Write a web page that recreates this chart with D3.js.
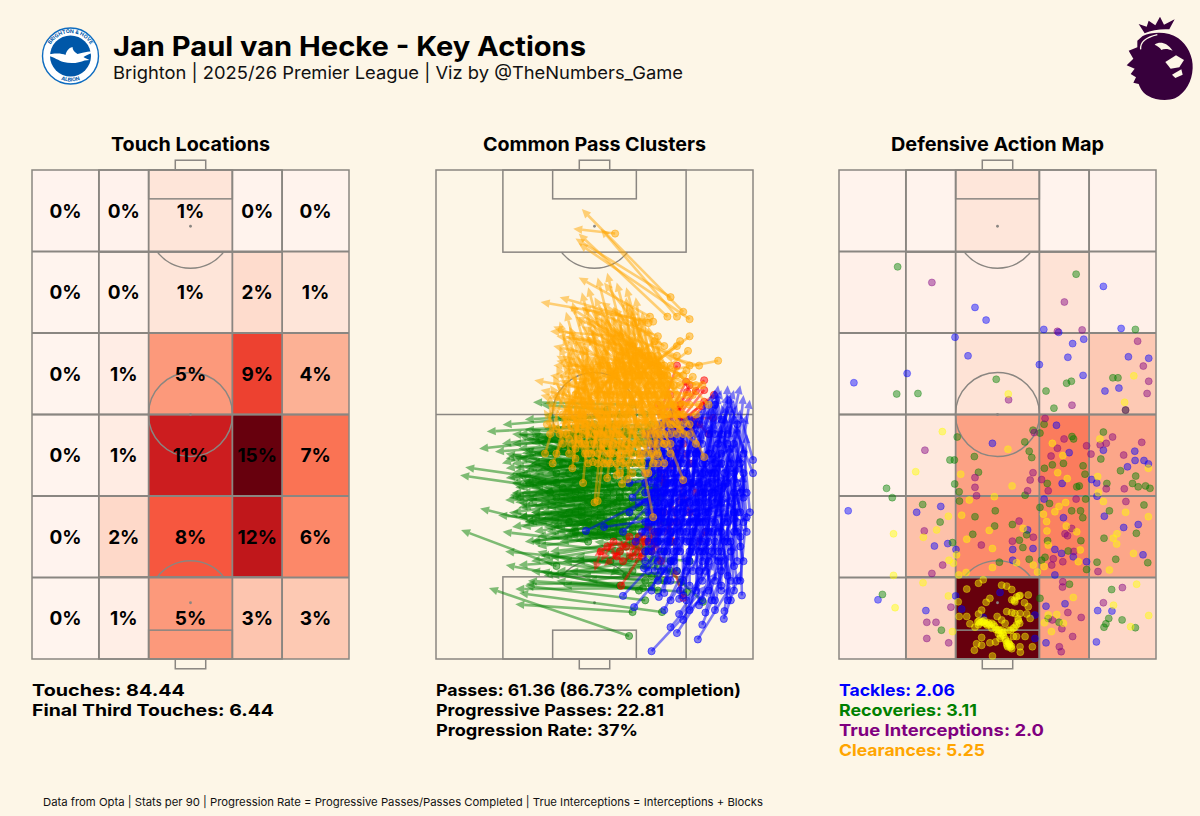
<!DOCTYPE html>
<html>
<head>
<meta charset="utf-8">
<script src="https://cdn.jsdelivr.net/npm/d3@7"></script>
<style>
  html, body { margin: 0; padding: 0; background: #fdf6e7; }
  svg { display: block; }
  text { font-family: Inter, "Open Sans", sans-serif; fill: #000; }
</style>
</head>
<body>
<div id="chart"></div>
<script>
// touch share per zone, top row first (percent)
const touchShare = [
  [0.15, 0.25, 1.4, 0.2, 0.2],
  [0.1, 0.3, 1.4, 2.0, 1.4],
  [0.1, 0.7, 5.4, 9.4, 4.3],
  [0.1, 0.8, 11.4, 15.3, 7.2],
  [0.15, 2.2, 8.4, 12.0, 6.2],
  [0.1, 0.6, 5.4, 3.3, 3.1]
];
// defensive actions per zone, top row first
const defensiveCounts = [
  [1, 1, 6, 1, 1],
  [2, 2, 3, 7, 2],
  [1, 1, 7, 9, 14],
  [1, 5, 23, 31, 22],
  [2, 16, 28, 30, 22],
  [2, 12, 70, 23, 10]
];
// zone edges in pitch percent
const zoneX = [0, 21.1, 36.8, 63.2, 78.9, 100];
const zoneY = [100, 83.33, 66.67, 50, 33.33, 16.67, 0];

// passes as [startX, startY, endX, endY] in pitch percent, y = 0 at own goal
const greenPasses = [
  [60.9,4.7,16.7,14.5],[62,9.6,25,11.2],[71.3,9.6,26.2,13.5],[77.3,15.7,28.3,15.3],[65.3,14.5,25,14.3],[61,20.6,26,19.2],[79.2,13.7,29,16],[84.2,11.7,62,25],
  [60,50,21,47.9],[58,48,16,46.5],[56,46,13.6,43],[52,47,20.8,44],[54,44,18.6,42.4],[50,45,20.8,40],[44,36,9.2,39.2],[46,34,7.6,37.6],[50,36,23.3,33.5],[52,33,21.8,32.5],[44,26,13.9,30.8],[48,28,19.6,29.4],[38,19,7.9,26.4],[48,24,21,26],[55,20,21.8,22],[58,15,22,19.2],
  [62,52,30.6,52.5],[58,50,28,49],[54,51,33,52],[66,50,38,49],[68,48,36,47],[70,46,34,45],[64,47,30,45],[60,46,26,46],[56,45,24,44],[52,44,28,42],[48,43,22,41],[50,42,30,40],
  [66,44,32,42],[68,42,30,40],[70,41,34,39],[64,42,28,39],[62,40,26,41],[60,41,24,38],[58,40,22,37],[56,39,28,36],[54,38,25,35],[52,39,30,37],[48,37,27,36],[46,38,32,40],
  [70,38,36,37],[68,37,34,35],[66,36,31,34],[64,38,29,36],[62,36,25,33],[60,35,27,34],[58,36,23,33],[56,34,29,32],[54,33,26,31],[52,35,31,36],[48,32,24,30],[46,31,28,33],
  [70,34,38,33],[68,33,35,31],[66,32,33,30],[64,33,30,29],[62,31,28,28],[60,32,26,29],[58,30,24,27],[56,30,30,30],[54,29,27,27],[52,30,33,32],[50,29,29,28],[48,28,31,26],
  [70,30,40,29],[68,29,37,27],[66,28,35,26],[64,29,32,25],[62,27,30,24],[60,28,34,27],[58,26,28,24],[56,27,36,28],[54,25,32,23],[52,26,38,30],[72,28,42,25],[70,26,39,24],
  [68,25,44,28],[66,24,36,22],[64,25,41,26],[62,24,33,21],[60,23,30,20],[72,36,44,35],[71,33,46,32],[72,42,42,43],[71,45,40,46],[69,44,44,44],[67,40,42,38],[65,35,40,34],
  [63,34,38,32],[61,30,36,29],[59,28,42,30],[57,32,40,35],[55,35,38,38],[53,37,36,42],[51,40,34,43],[49,40,32,45],[47,41,30,47],[45,42,34,46],[43,40,28,43],[44,33,24,36],
  [46,30,26,32],[42,28,23,30],[40,35,25,38],[38,33,27,37],[64,20,34,17],[66,19,36,21],[62,18,38,18],[68,20,40,20],[70,17,42,18],[60,17,32,22],[58,22,30,24],[74,20,44,21],
  [76,18,48,20],[72,16,46,17],[68,15,40,15],[64,14,33,18],[70,14,38,16],[66,12,28,15],[80,20,52,22],[74,24,46,25],[50,48,34,50],[48,46,28,47],[46,45,24,46],[67,47,42,47],
  [69,35,52,27],[67,27,50,25],[63,22,55,17],[60,38,56,24],[64,31,48,42],[61,44,44,38],[58,33,42,26],[55,42,38,33],
  [50,46,32,44],[52,46,34,45],[54,47,36,46],[56,48,38,45],[58,46,40,44],[60,47,42,45],[62,46,44,46],[64,45,46,44],[66,46,48,45],[68,45,50,43],
  [46,44,26,43],[48,44,27,42],[50,44,29,41],[52,42,31,42],[54,43,33,41],[56,42,35,42],[58,44,37,43],[60,43,39,42],[62,43,41,43],[64,44,43,42],[66,42,45,41],[68,40,47,42],[70,43,49,41],
  [44,41,24,40],[46,41,25,39],[48,40,27,38],[50,40,29,39],[52,41,31,38],[54,40,33,39],[56,41,35,38],[58,38,37,40],[60,39,39,38],[62,38,41,40],[64,40,43,38],[66,40,45,39],[68,39,47,38],[70,37,49,39],
  [42,38,23,37],[44,38,24,36],[46,37,26,35],[48,36,28,36],[50,38,30,35],[52,37,32,36],[54,36,34,34],[56,37,36,36],[58,34,38,35],[60,37,40,36],[62,35,42,34],[64,36,44,35],[66,34,46,36],[68,35,48,34],[70,35,50,36],
  [42,34,24,33],[44,34,25,32],[46,33,27,31],[48,34,29,33],[50,33,31,31],[52,32,33,33],[54,34,35,32],[56,32,37,31],[58,33,39,33],[60,33,41,32],[62,32,43,31],[64,31,45,33],[66,30,47,32],[68,31,49,31],[70,32,51,30],
  [42,30,26,29],[44,30,28,28],[46,29,30,30],[48,30,32,28],[50,31,34,29],[52,29,36,27],[54,31,38,29],[56,28,40,28],[58,29,42,27],[60,30,44,29],[62,29,46,27],[64,27,48,28],[66,27,50,29],[68,27,52,27],
  [40,40,22,42],[38,38,24,42],[42,42,26,46],[44,44,28,45],[46,46,30,44],[40,44,30,46],[48,48,34,47],[36,40,22,39],[38,36,26,38],[36,34,24,34],
  [50,26,36,25],[52,27,38,26],[54,27,40,25],[56,25,42,26],[58,27,44,24],[60,25,46,26],[62,26,48,25],[64,23,50,24],[66,22,52,26],[68,23,54,22],[70,24,56,25],
  [72,22,44,20],[70,19,36,17],[74,18,48,16],[68,17,34,20],[66,16,30,18]
];
const bluePasses = [
  [68,1.6,86.5,14.5],[82.6,4,93,15],[76,5.3,89,18],[74,6.5,85,15],[90.8,8.2,96,18],[76.7,9.2,88,20],[62.5,10.6,76,21],[59,12.9,72,22],[70.3,12.7,76,22],[72,13.5,74,25],[76.7,12.3,79,22],
  [83,11,82,24],[85,9.5,90,22],[91,9.8,94,24],[96.5,13,96,28],[96,16,98,30],[95,20,94,34],[96,23,97,38],[98,29,96,42],[99,30,97,44],[97,33,98,46],[100,38,94,48],[100,40.7,96,50],
  [65.6,18.6,78,28],[47.3,26.2,68,33],[53,27,74,29],[59,26,71,34],[61,30,76,37],[62,33,74,42],[61,36,80,38],
  [66,20,68,34],[68,22,70,36],[70,20,72,38],[72,18,74,34],[74,20,73,40],[76,18,76,36],[78,16,77,42],[80,15,80,38],[82,14,83,32],[84,16,82,44],[86,14,85,36],[88,16,88,40],[90,15,90,36],[92,17,92,42],[94,19,94,44],
  [66,26,69,44],[68,28,72,46],[70,26,70,42],[72,28,74,48],[74,26,76,46],[76,28,75,49],[78,26,80,48],[80,24,82,49],[82,26,81,44],[84,24,86,48],[86,26,87,52],[88,24,90,50],[90,26,89,46],[92,28,93,52],[94,26,95,48],
  [66,34,67,47],[68,36,71,48],[70,32,73,49],[72,34,72,46],[74,32,78,49],[76,34,74,44],[78,32,81,49],[80,34,79,48],[82,32,84,50],[84,34,83,46],[86,32,89,54],[88,34,87,48],[90,32,92,56],[92,36,91,50],[94,34,97,54],
  [70,40,66,47],[72,42,70,48],[74,38,74.4,52],[76,42,74,49],[78,40,77,49],[80,42,84,50],[82,38,80,49],[84,40,88,53],[86,42,89,56],[88,40,92,52],[90,42,94,53],[92,44,96,56],[96,40,99,53],[94,38,98,50],[85,30,82,41],
  [69,18,71,30],[73,16,78,32],[77,14,82,28],[81,18,86,30],[85,18,87,34],[89,20,91,34],[93,22,97,36],[95,28,92,40],[71,24,73,36],[75,22,79,38],[79,20,84,36],[83,22,85,40],[87,22,92,38],[91,24,88,42],[67,30,70,40],
  [65,26,76,34],[63,24,72,30],[66,38,78,44],[64,32,80,36],[67,22,84,30],[69,28,87,36],[71,30,90,40],[73,36,89,44],[75,30,93,36],[77,36,95,44],[79,28,96,34],[81,26,97,40],[83,36,88,50],[87,38,90,48],[89,30,94,42],
  [72,10,84,26],[78,8,88,24],[84,7,93,22],[88,12,84,22],[70,16,80,26],[74,12,90,28],[68,14,76,28],[79,12,95,30],[86,20,92,30],[96,25,90,32],[95,30,86,36],[93,12,90,26],[90,20,76,25],[86,38,78,48],[94,44,90,52],
  [88,52,84,46],[90,49,88,55],[95,48,92,54],
  [67,40,69,47],[69,42,71,49],[68,44,73,50],[70,36,74,47],[72,38,76,49],[71,34,75,45],[73,40,77,50],[75,38,79,48],[74,36,78,46],[76,40,80,50],[78,38,82,49],[77,44,81,50],[79,42,83,50],[81,40,85,52],[80,36,84,47],[82,42,86,51],[84,38,88,49],[83,42,87,54],[85,40,89,51],[87,42,91,50],[86,36,90,47],[88,38,92,48],[90,40,94,50],[89,44,93,54],[91,38,95,47],[93,40,96,51],[92,46,95,52],
  [67,24,70,33],[69,26,73,37],[68,32,71,41],[70,28,75,41],[72,26,77,40],[71,22,76,37],[73,28,78,42],[75,26,80,41],[74,24,79,35],[76,24,81,37],[78,28,83,43],[77,22,82,34],[79,24,84,39],[81,28,86,43],[80,22,85,35],[82,28,87,42],[84,22,89,36],[83,24,88,38],[85,28,90,41],[87,26,92,40],[86,24,91,37],[88,28,93,44],[90,22,95,34],[89,22,94,38],[91,28,96,42],[93,24,97,38],[92,24,95,40],
  [66,36,72,40],[66,32,73,34],[66,28,72,32],[65,42,73,44],[66,22,74,28],[66,46,72,49],[68,46,74,49],[67,34,75,36],[68,30,76,32],[69,34,78,38],[70,30,79,34],[71,38,80,42],[72,30,82,33],[73,34,84,37],[74,28,86,32],[75,34,88,37],[76,30,90,34],[77,32,92,36],[78,34,94,38],[79,30,96,32],[80,28,95,30],
  [95,36,90,46],[96,34,92,44],[97,38,93,48],[97,28,94,36],[96,30,93,40],[95,26,91,35],[94,30,90,38],[98,34,95,42],[97,42,94,50],[98,26,96,36],[97,20,94,30],[95,16,92,27],[93,16,89,28],[90,14,87,27],[87,12,85,24],
  [70,44,74,49],[72,44,76,49],[74,42,78,49],[76,46,80,50],[78,46,82,50],[80,46,84,51],[82,46,86,53],[84,44,88,55],[86,46,90,55],[88,46,92,54],[90,46,94,55],[75,20,78,30],[85,22,86,28],[81,22,83,31],[71,18,73,26],[67,18,70,26],[73,22,74,30],[79,18,81,27],[83,18,85,26],
  [70,30,72,38],[72,32,74,42],[74,34,76,43],[76,36,78,44],[78,30,80,39],[80,32,82,41],[82,30,84,39],[84,28,86,37],[86,30,88,39],[88,32,90,41],[71,42,73,48],[73,44,75,49],[75,40,77,47],[77,40,79,46],[79,38,81,45],[81,36,83,44],[83,32,85,40],[85,34,87,42],[87,34,89,43],[89,36,91,45],
  [69,24,71,30],[71,26,73,33],[73,24,75,31],[75,28,77,35],[77,26,79,33],[79,26,81,32],[81,24,83,30],[83,28,85,34],[85,26,87,32],[87,28,89,34],[89,26,91,31],[72,22,75,27],[76,22,78,26],[80,20,82,26],[84,20,86,25],[68,38,70,43],[68,34,71,38],[69,30,72,34],[70,24,72,28],[67,28,70,32],
  [80,10,84,20],[84,12,88,22],[88,10,90,20],[92,12,91,22],[78,13,81,23],[74,16,77,24],[94,14,93,24],[90,18,92,26]
];
const orangePasses = [
  [56.5,87,43.3,88],[74,74,44,86],[78,71,46,92],[80,69.5,45,85],[76,70,52,88],[73,70,45,87],[67.5,70,45,78],[68.5,69,33,73],[67,68.7,39,74],[63,68.7,53,77],
  [70,66,46,72],[72,64,52,73],[76,62,48,69],[89,61,71,58.7],[80,66,68,60],[79.5,63,66,56],[77,65,62,57],[76,64,58,55],[69,65,55,58],[79,59,66,54],[81,57.7,70,53],
  [60,62,37,68],[64,60,37,64],[58,58,38,61],[62,56,36,58],[58,54,31,57],[56,52,33,55],[55,50,33,54],[58,66,36,67],[62,64,38,66],[66,62,41,66],
  [66,58,46,72],[64,57,50,74],[68,60,53,72],[62,59,47,66],[70,56,50,70],[72,58,56,72],[70,52,54,67],[73,54,60,73],[66,52,49,67],[60,48,42,64],[58,46,40,60],[56,44,38,56],[54,42,40,52],
  [34.4,42,42,58],[36.8,40,46,54],[43,39,47,60],[46.4,36,50,62],[50,32,54,56],[51,32.3,56,60],[58.7,35.8,60,58],[60.5,36.8,62,60],[54,37,58,56],[57,37.6,60,60],[64.4,41,56,62],[68.5,29,58,64],
  [78,36.6,64,60],[84.6,41.3,70,62],[68.5,40,62,62],[69.7,41.7,64,64],[72,44,60,66],[49.5,40.3,52,62],[48,42,46,64],[44,43,44,60],[42,45,42,63],[46,44,48,66],[52,43,50,68],[55,42,54,70],[58,41,56,72],[61,43,58,71],[63,44,60,74],[66,44,62,70],[68,46,58,68],[70,46,62,72],[74,48,64,70],[76,50,66,68],[78,52,68,66],[75,52,60,64],[72,50,56,68],[69,48,52,70],[65,46,48,68],[62,46,45,70],[60,44,44,66],[57,46,42,68],[54,46,40,66],[51,46,39,64],[48,46,38,60],[45,47,37,58],[43,49,36,56],[47,50,39,69],[50,50,41,71],[53,50,43,73],[56,50,46,75],[59,50,48,76],[62,50,51,78],[65,50,54,79],[68,50,57,77],[71,50,60,76],[74,46,66,64],[77,47,68,63],[72,46,70,66],
  [73,58,49,71],[70,60,46,68],[67,62,42,72],[64,63,44,70],[61,64,50,72],[58,62,47,70],[55,60,44,65],[52,56,41,62],[50,54,39,57],[48,52,36,54],[46,50,35,52],[45,44,40,50],[47,42,43,52],[49,44,45,55],[51,42,47,58],[53,44,49,60],[55,46,51,62],[57,48,53,64],[59,52,55,66],[61,54,57,68],[63,52,59,70],[65,54,61,72],[67,56,63,74],[69,54,65,71],[71,56,67,68],[73,50,63,62],[75,48,69,60],[77,50,70,58],[74,56,66,62],[76,54,68,62],
  [60,56,46,60],[64,54,48,62],[68,52,52,60],[72,52,58,60],[70,48,54,58],[66,48,50,56],[62,44,47,52],[58,44,44,50],[54,44,41,48],[50,48,38,50],[47,46,44,54],[44,47,48,58],[52,50,58,62],[56,54,62,66],[60,58,66,70],[64,58,60,68],[68,56,56,62],[71,60,62,68],[63,62,55,70],[59,60,52,68],
  [72,44,52,62],[74,44,58,60],[76,46,60,58],[78,48,62,56],[80,48,66,58],[82,44,68,52],[70,42,56,56],[68,42,54,52],[66,42,50,50],[64,42,46,48],[62,42,44,54],[60,42,42,50],[58,42,48,58],[56,42,46,56],
  [50,44,55,60],[52,46,57,62],[54,48,59,64],[56,48,61,60],[58,48,63,66],[60,50,65,64],[62,52,67,62],[64,52,69,60],[66,54,71,58],[68,54,73,56],[70,54,60,52],[72,54,62,50],[74,52,64,48],[76,52,58,50],[78,50,56,48],
  [45,50,54,64],[47,52,56,66],[49,52,58,60],[51,54,60,62],[53,54,44,62],[55,54,46,64],[57,56,48,66],[59,56,50,64],[61,58,52,66],[63,58,54,60],[65,58,56,66],[67,58,58,64],[69,58,60,66],[71,58,62,64],[73,56,64,62],[75,56,66,60],[77,56,68,60],
  [40,50,50,60],[42,52,52,58],[44,54,48,62],[46,56,42,66],[48,58,40,60],[50,58,38,62],[52,60,37,60],[54,60,39,58],[56,58,41,56],[58,60,43,54],[60,60,45,52],[62,60,47,50],[64,62,49,54],[66,60,51,56],[68,62,53,54],[70,62,55,52],[72,60,57,50],[74,60,59,48],[76,58,61,46],
  [44,48,40,56],[46,48,42,54],[48,48,44,52],[50,46,46,50],[52,48,48,54],[54,50,50,52],[56,46,52,50],[58,52,54,48],[60,54,56,46],[62,54,58,44],[64,48,60,52],[66,46,62,50],[68,44,64,54],[70,44,66,56],[72,48,68,58],[74,50,70,60],[76,48,72,58],[78,46,74,52],[80,46,70,50],[80,52,72,54],[82,50,74,50],
  [39,46,43,52],[41,48,45,56],[43,44,47,52],[45,45,49,54],[47,44,51,52],[49,42,53,50],[51,40,55,50],[53,40,57,48],[55,40,59,50],[57,40,61,48],[59,40,63,50],[61,40,65,52],[63,40,67,50],[65,40,69,52],[67,38,71,48],
  [84,56,70,58],[86,52,74,60],[82,56,66,62],[80,60,68,64],[83,60,72,62],[78,58,62,62],[81,54,70,55],[79,54,67,50],[83,52,72,52],[38,42,42,52],[40,44,37,52],[36,46,36,54],[42,42,40,50],[38,47,34,51],[44,41,42,48],[41,46,35,48],[35,48,39,55],[72,40,66,50],[74,42,68,48],[70,40,62,46],[66,38,58,44],[62,38,54,44],[58,38,50,46],[54,40,46,44],[48,40,44,46]
];
const redPasses = [
  [76,60,70,49],[78.9,56.7,72,48],[84.6,57,74,49],[79.2,54.6,71,47],[82,54.8,72,45],[84.6,55,75,47],[87.7,54,76,48],[84.6,52.6,74,46],[84,51.7,77,45],[87.4,49.3,72,49],[80.5,47.9,72,44],[74,48,66,46],[70,46,68,42],
  [70,52,73,47],[74,54,72,50],[72,48,78,52],[77,52,75,46],[80,56,76,50],[83,48,78,46],[86,46,80,50],[76,50,82,46],
  [58.4,15,65.3,21.9],[78,12.5,74.8,18.8],[52,22,50,18],[56,24,52,20],[58,22,53,19],[60,23,56,24],[63,24,60,20],[66,24,64,21],[68,22,70,25],[65,21,62,23],[69,26,66,23],[71,20,69,24],[75,24,73,28],[72,30,70,26],[78,36,76,31],[80,30,78,34],[85,26,82,23],[76,43,74,38],
  [54,23,50,21],[57,21,54,24],[61,25,58,22],[64,25,61,22],[67,24,64,26],[59,20,55,22],[62,21,66,25],[70,26,68,22],[74,28,72,25],[67,27,69,23],
  [74,40,71,36],[78,44,75,41],[82,34,80,37],[76,28,74,32],[72,36,70,40],[80,40,78,43]
];

// defensive actions as [x, y] in pitch percent
const tackles = [
  [83.4,76.2],[42.9,71.9],[46.4,69.3],[64.6,67.4],[89,67.6],[69.3,66.8],[36.6,65.8],[73.7,64.5],[77.2,65.4],[91.3,61.8],[97.7,61.5],[72.2,61.7],[40.7,62],[63.2,60.2],[77,58],[21.5,58.4],[4.7,56.5],[88.3,55.4],[83.9,54.8],[68.6,47.8],[48.4,44.1],[83.4,42.7],[93.3,42.5],[72.6,42.2],
  [91,39.3],[93.4,40.6],[96.2,40.6],[97.6,39.9],[70.4,35.9],[81.3,36],[79.7,36.7],[81.4,33.3],
  [2.9,30.3],[24.5,30],[32.1,31.2],[30.1,23.1],[34.3,23.6],[36.9,22.4],[64.7,32.7],[70.8,28.9],[59.5,26.4],[54.8,22.4],[61.2,22.6],[54.8,20.2],[68.1,22.4],[70.2,21.6],[73.9,20.9],[78.1,19.9],[68.1,17.2],[83.7,29.2],[89.8,26.9],[94.4,27.5],[95.9,21.3],
  [12.3,12.1],[27.4,9.9],[36.8,12.9],[65.3,10.8],[71.3,11.3],[81.6,9.9],[86.1,9.8],[81.2,3.5],[65.3,3.3],[38.7,10.2],[61.8,9],[61.8,4.2],[50.8,13.6],[45.5,8.5]
];
const recoveries = [
  [18.5,80.2],[74.8,78.7],[93.5,67.4],[86.4,57.5],[88,57.5],[71.8,56.4],[73.3,56.8],[65.3,54.8],[67.8,51.3],[49.6,57.2],[18.2,54.2],[24.9,54.3],[64.7,48],[61.2,46.8],[63.4,46.2],[37.3,45.4],[58.6,44.4],[60,42.5],[83.4,46.4],[73.5,45.5],[74,45],[42.7,41.4],[35,40.7],[36.4,40.7],[90.4,50.9],
  [15,34.9],[16.8,33],[36.5,35.8],[44,38.2],[37.9,34.2],[60.8,41.2],[64.8,39],[67.3,39.7],[70.8,40],[77,39.5],[77.6,37.8],[65.7,35.9],[75,35.2],[75.8,35.4],[82.6,40.9],[88.8,38.5],[93.6,37.4],[92.6,35.9],[94.4,35.2],[96.7,35.4],[98.1,34.9],[84.5,35.9],[58.7,33.5],
  [26.4,31.6],[31.9,28],[35.8,23.8],[38,32.3],[49.3,30.3],[42.9,29.1],[49.1,27.2],[42.2,25.5],[54.7,27.5],[56.9,24.3],[59.2,25.4],[58,22.8],[50.6,19.8],[60,20.4],[65,20.8],[63.4,31],[66.4,31.8],[73.4,30.3],[76.2,30.3],[76.9,28.9],[77.8,32.7],[76.3,24.2],[65.8,24.2],[72.3,22.1],[63.9,20.2],[78.1,18.3],[81.4,19.8],[85.3,30.3],[83.6,24.7],[93.8,25.7],[96.2,31.5],[97.4,19.7],[87.3,20.4],
  [13.7,13.2],[72.7,15.3],[63.4,12.4],[66,8.3],[69.4,7.5],[86,14.2],[85.1,8.3],[84.2,7.2],[83.6,6.5],[89.3,8],[93.5,6.4],[32.3,5.9]
];
const interceptions = [
  [29.3,77],[71.1,73],[68.9,67],[76.7,67.3],[94.2,65],[96,59.9],[97.7,56.8],[97.2,54.3],[73.5,51.9],[53.5,53],[65,49.2],[71,45],[61.6,46.3],[78.1,43.6],[86.3,45.4],[84.3,44.1],[82.4,43.8],[95.5,44.3],[27.1,42.7],[79.5,41.9],[89.8,41.7],[68.9,43.1],[66.9,41.5],[90.4,50.9],
  [42.9,37.1],[42.9,35.1],[43.4,33.4],[60.3,36.6],[63.9,36.7],[61.2,38.1],[59.5,34.4],[66,34.4],[84.3,34.8],[90,34.8],
  [26.9,26.2],[32.7,19.2],[29.3,17.5],[44.9,23.3],[56.8,28.2],[61.3,24.9],[54.7,24.1],[74.8,32.7],[90.5,32.2],[71.3,25.6],[72.1,25.2],[73.4,26.7],[67.6,20.5],[67.1,19.2],[70.6,19.9],[74.1,22],[81.7,17.9],
  [89.4,14.6],[83.4,11.5],[35.3,10.6],[27.7,7.5],[30.6,7.5],[27.7,4.2],[34.6,3.3],[70.6,15.8],[70.5,14.7],[72.2,9.5],[76.4,8.5],[67.3,8],[70.3,6.2],[73.7,4.6],[69.5,2.5],[70.1,1.5]
];
const clearances = [
  [53.4,54.2],[93,57.9],[90.1,52.5],[32.6,46.5],[53.3,42.9],[67.3,44.1],[82.3,45],[70.6,41.6],
  [24.2,38.3],[38.4,37.8],[54.6,35.4],[69,38.1],[72,36.9],[81.6,37.3],[97.6,39],[81.8,34],[49,33.2],
  [17.2,25.6],[17.2,17.1],[34.5,29.2],[30.8,26.4],[26.6,24.9],[38.7,29.4],[41.1,32.5],[34.7,20.2],[36.1,19.6],[37.1,21.3],[37.8,17.2],[40.1,17.7],[40.3,24.5],[47.4,26.3],[48.4,22.6],[48.4,18.7],[58.1,26.7],[61.3,19.2],[62.6,17.8],[64.7,18.9],[65.5,28.1],[65.6,26.2],[64.5,29.6],[68.1,30.1],[69.4,31.2],[71.5,32],[71.7,27.2],[75,26],[76.1,22.3],[75.5,19.9],[66,23.3],[90.4,30],[97.6,29.1],[87.7,25.6],[86.5,24.7],[87.6,23.5],[92.9,21.6],[85.3,18.2],[83.4,32.2],[56,19.7],
  [26.5,15.6],[17.7,10.5],[34.5,12.9],[35.8,5.6],[93.9,15.3],[86.6,11],[97.7,8.9],[92,6.6],[73.9,12.6],[68.7,9.1],[66,9],[64.8,7.4],[67,5.6],[70.8,7.3],
  [40.3,14.3],[44,15.5],[45.5,16.2],[51.3,15.1],[52.9,14.9],[54.5,14.2],[47.6,12.4],[46.4,11.6],[45,10],[44,9.2],[37.6,11.7],[37.9,8.7],[40.3,8.7],[41.3,7.2],[42.9,6.5],[44.2,7.8],[45.5,7.6],[47.1,7.4],[48.2,7.3],[49.2,6.6],[49.9,8.7],[52.9,9.7],[56,12.7],[57.1,13],[59.7,13.1],[54.5,12.1],[55.5,11.7],[58.5,11.5],[59.7,10.7],[57.1,9.3],[59.2,9.2],[60.3,8.3],[54.5,9.5],[55.5,9.3],[56.6,7.8],[56,7],[55,6.3],[53.4,5.9],[51.3,5.9],[48.2,6.3],[45,4.4],[43.4,3.1],[45,2.8],[42.7,1.8],[47.6,3.3],[49.4,3.5],[51,4.7],[52.4,4.2],[53.4,3.5],[53.2,2.5],[54.5,2.1],[57.1,2.5],[57.2,1.4],[55,4.6],[58.7,4.6],[61,2.5],[48.4,0.6],[56,4.6],[52.4,7.3],[51.3,8],[46,7.3],[45,7.6],[44,7],[51.8,4.9],[52.9,3.2],[53.9,2.9],[50.3,5.2],[50.8,4.2],
  [44.5,7.4],[46.5,7.2],[47.5,7],[48.8,7],[45.8,7.9],[43.8,7.6],[46.8,6.9],[50.5,6],[52,5.5],[52.6,3.8],[53,2.8],[54,2.4],[53.7,3.1],[51.5,5.3],[56.5,8.2],[57,7.3],[55.5,6.5],[54.2,5.9],[49.6,6],[50.2,5.9],[56.8,12.9],[55.3,12],[54.4,2.6]
];

const width = 1200;
const height = 816;
const lineColor = "#8a8681";
const pitchLeft = { touch: 32, pass: 436, defence: 839 };
const pitchWidth = 317;
const pitchTop = 170;
const pitchBottom = 659;

const svg = d3.select("#chart")
  .append("svg")
  .attr("width", width)
  .attr("height", height)
  .attr("viewBox", `0 0 ${width} ${height}`);

svg.append("rect").attr("width", width).attr("height", height).attr("fill", "#fdf6e7");

const y = d3.scaleLinear().domain([0, 100]).range([pitchBottom, pitchTop]);

function pitchX(left) {
  return d3.scaleLinear().domain([0, 100]).range([left, left + pitchWidth]);
}

// writes text stretched to the measured width of the original wordmark
function label(x0, y0, str, size, weight, fill, len, anchor = "start") {
  const t = svg.append("text")
    .attr("x", x0).attr("y", y0)
    .attr("font-size", size)
    .attr("font-weight", weight)
    .attr("text-anchor", anchor)
    .style("fill", fill)
    .text(str);
  if (len) t.attr("textLength", len).attr("lengthAdjust", "spacingAndGlyphs");
  return t;
}

// pitch markings, drawn on top of whatever the panel fills in
function drawPitch(x, grid) {
  const g = svg.append("g")
    .attr("fill", "none")
    .attr("stroke", lineColor)
    .attr("stroke-width", 1.5);
  const box = (x0, x1, y0, y1) => g.append("rect")
    .attr("x", x(x0)).attr("y", y(y1))
    .attr("width", x(x1) - x(x0)).attr("height", y(y0) - y(y1));

  box(0, 100, 0, 100);
  g.append("line").attr("x1", x(0)).attr("x2", x(100)).attr("y1", y(50)).attr("y2", y(50));

  // boxes and goals at both ends
  box(21.1, 78.9, 0, 16.8);
  box(21.1, 78.9, 83.2, 100);
  box(36.8, 63.2, 0, 5.9);
  box(36.8, 63.2, 94.1, 100);
  box(45.2, 54.8, -2, 0);
  box(45.2, 54.8, 100, 102);

  const r = x(13.25) - x(0);
  g.append("circle").attr("cx", x(50)).attr("cy", y(50)).attr("r", r);

  // penalty arcs, only the part outside the box
  const spotTop = y(88.5), spotBottom = y(11.5);
  const ang = Math.acos((y(11.5) - y(16.8)) / r);
  const topArc = d3.path();
  topArc.arc(x(50), spotTop, r, Math.PI / 2 - ang, Math.PI / 2 + ang);
  g.append("path").attr("d", topArc.toString());
  const bottomArc = d3.path();
  bottomArc.arc(x(50), spotBottom, r, -Math.PI / 2 - ang, -Math.PI / 2 + ang);
  g.append("path").attr("d", bottomArc.toString());

  svg.append("g").attr("fill", lineColor)
    .selectAll("circle")
    .data([[50, 88.5], [50, 11.5], [50, 50]])
    .join("circle")
    .attr("cx", d => x(d[0]))
    .attr("cy", d => y(d[1]))
    .attr("r", 1.4);

  if (grid) {
    const gl = svg.append("g").attr("stroke", lineColor).attr("stroke-width", 1.8);
    gl.selectAll(".v").data(zoneX.slice(1, -1)).join("line").attr("class", "v")
      .attr("x1", d => x(d)).attr("x2", d => x(d)).attr("y1", y(0)).attr("y2", y(100));
    gl.selectAll(".h").data(zoneY.slice(1, -1)).join("line").attr("class", "h")
      .attr("x1", x(0)).attr("x2", x(100)).attr("y1", d => y(d)).attr("y2", d => y(d));
  }
}

function drawZones(x, values, color) {
  const cells = values.flatMap((row, i) => row.map((v, j) => ({ v, i, j })));
  svg.append("g").selectAll("rect")
    .data(cells)
    .join("rect")
    .attr("x", d => x(zoneX[d.j]))
    .attr("y", d => y(zoneY[d.i]))
    .attr("width", d => x(zoneX[d.j + 1]) - x(zoneX[d.j]))
    .attr("height", d => y(zoneY[d.i + 1]) - y(zoneY[d.i]))
    .attr("fill", d => color(d.v));
  return cells;
}

// touch map
const touchX = pitchX(pitchLeft.touch);
const touchColor = d3.scaleSequential(d3.interpolateReds).domain([0, 15.3]);
const touchCells = drawZones(touchX, touchShare, touchColor);
drawPitch(touchX, true);
svg.append("g")
  .selectAll("text")
  .data(touchCells)
  .join("text")
  .attr("x", d => (touchX(zoneX[d.j]) + touchX(zoneX[d.j + 1])) / 2)
  .attr("y", d => (y(zoneY[d.i]) + y(zoneY[d.i + 1])) / 2)
  .attr("dy", "0.36em")
  .attr("text-anchor", "middle")
  .attr("font-size", 19)
  .attr("font-weight", 700)
  .text(d => `${Math.round(d.v)}%`);

// pass clusters
const passX = pitchX(pitchLeft.pass);
drawPitch(passX, false);
const passGroups = [
  { color: "green", passes: greenPasses },
  { color: "red", passes: redPasses },
  { color: "blue", passes: bluePasses },
  { color: "orange", passes: orangePasses }
];
passGroups.forEach(group => {
  const g = svg.append("g").attr("fill", group.color).attr("stroke", group.color);
  group.passes.forEach(p => {
    const x1 = passX(p[0]), y1 = y(p[1]), x2 = passX(p[2]), y2 = y(p[3]);
    const ang = Math.atan2(y2 - y1, x2 - x1);
    const bx = x2 - 9 * Math.cos(ang), by = y2 - 9 * Math.sin(ang);
    const nx = -Math.sin(ang) * 4.2, ny = Math.cos(ang) * 4.2;
    g.append("line")
      .attr("x1", x1).attr("y1", y1).attr("x2", bx).attr("y2", by)
      .attr("stroke-width", 2.6).attr("stroke-opacity", 0.5);
    g.append("polygon")
      .attr("points", `${x2},${y2} ${bx + nx},${by + ny} ${bx - nx},${by - ny}`)
      .attr("stroke", "none").attr("fill-opacity", 0.5);
    g.append("circle")
      .attr("cx", x1).attr("cy", y1).attr("r", 3.6)
      .attr("fill-opacity", 0.5).attr("stroke-opacity", 0.5).attr("stroke-width", 1);
  });
});

// defensive map
const defenceX = pitchX(pitchLeft.defence);
const defenceColor = d3.scaleSequential(d3.interpolateReds).domain([0, 70]);
drawZones(defenceX, defensiveCounts, defenceColor);
drawPitch(defenceX, true);
const actionGroups = [
  { color: "blue", points: tackles },
  { color: "green", points: recoveries },
  { color: "purple", points: interceptions },
  { color: "yellow", points: clearances }
];
actionGroups.forEach(group => {
  svg.append("g")
    .selectAll("circle")
    .data(group.points)
    .join("circle")
    .attr("cx", d => defenceX(d[0]))
    .attr("cy", d => y(d[1]))
    .attr("r", 3.5)
    .attr("fill", group.color)
    .attr("fill-opacity", 0.45)
    .attr("stroke", group.color)
    .attr("stroke-opacity", 0.45)
    .attr("stroke-width", 0.8);
});

// header
label(113, 56, "Jan Paul van Hecke - Key Actions", 27, 700, "#000", 473);
label(113, 79, "Brighton | 2025/26 Premier League | Viz by @TheNumbers_Game", 17.5, 400, "#111", 570);

label(111, 151, "Touch Locations", 19, 700, "#000", 159);
label(483, 151, "Common Pass Clusters", 19, 700, "#000", 223);
label(891, 151, "Defensive Action Map", 19, 700, "#000", 213);

// stat lines
label(32, 696, "Touches: 84.44", 16.5, 700, "#000", 153);
label(32, 716, "Final Third Touches: 6.44", 16.5, 700, "#000", 242);
label(436, 696, "Passes: 61.36 (86.73% completion)", 16.5, 700, "#000", 305);
label(436, 716, "Progressive Passes: 22.81", 16.5, 700, "#000", 228);
label(436, 736, "Progression Rate: 37%", 16.5, 700, "#000", 202);
label(839, 696, "Tackles: 2.06", 16.5, 700, "blue", 116);
label(839, 716, "Recoveries: 3.11", 16.5, 700, "green", 138);
label(839, 736, "True Interceptions: 2.0", 16.5, 700, "purple", 205);
label(839, 756, "Clearances: 5.25", 16.5, 700, "orange", 146);

label(43, 806, "Data from Opta | Stats per 90 | Progression Rate = Progressive Passes/Passes Completed | True Interceptions = Interceptions + Blocks", 11, 400, "#111", 720);

// Brighton crest
const crest = svg.append("g").attr("transform", "translate(70.5,56)");
crest.append("circle").attr("r", 28).attr("fill", "#fff").attr("stroke", "#0e6cc0").attr("stroke-width", 1.4);
crest.append("circle").attr("r", 20.5).attr("fill", "#0057a8");
crest.append("path")
  .attr("fill", "#fff")
  .attr("d", "M-26,-1 C-16,-3 -9,-3 -5,-1 C-4,-5 -2,-8 2,-9 C2,-6 4,-4 7,-2 C14,-4 20,-5 27,-5 C21,-3 16,-1 13,1 C14,2 17,3 19,4 L14,4.5 C9,7 0,8 -7,6 C-12,5 -15,1 -26,-1Z");
crest.append("path").attr("id", "crestTop").attr("fill", "none").attr("d", "M-23,0 A23,23 0 0 1 23,0");
crest.append("path").attr("id", "crestBottom").attr("fill", "none").attr("d", "M-25.5,0 A25.5,25.5 0 0 0 25.5,0");
crest.append("text").attr("font-size", 5.2).attr("font-weight", 700).style("fill", "#0057a8")
  .append("textPath").attr("href", "#crestTop").attr("startOffset", "50%").attr("text-anchor", "middle")
  .text("BRIGHTON & HOVE");
crest.append("text").attr("font-size", 5.2).attr("font-weight", 700).style("fill", "#0057a8")
  .append("textPath").attr("href", "#crestBottom").attr("startOffset", "50%").attr("text-anchor", "middle")
  .text("ALBION");

// Premier League lion
const lion = svg.append("g").attr("transform", "translate(1100,0) scale(0.3333)");
lion.append("path").attr("fill", "#37003c")
  .attr("d", "M134,100 L116,72 L140,80 L146,62 L166,76 L180,50 L192,74 L224,58 L208,88 C185,86 155,90 134,100Z");
lion.append("path").attr("fill", "#37003c")
  .attr("d", "M128,108 C160,94 205,94 235,115 C262,135 280,170 278,205 C276,245 258,278 225,295 C200,304 165,300 145,288 C130,280 122,268 116,252 L100,248 L108,232 L92,222 L104,206 L80,196 L100,176 L86,152 L112,142 L112,122Z");
lion.append("path").attr("fill", "none").attr("stroke", "#fdf6e7").attr("stroke-width", 4)
  .attr("d", "M122,148 C120,128 138,112 172,104");
lion.append("path").attr("fill", "#fdf6e7")
  .attr("d", "M164,134 C178,124 200,126 218,152 C204,146 192,146 184,150 C180,142 172,138 164,134Z");
lion.append("path").attr("fill", "#fdf6e7")
  .attr("d", "M196,186 L228,166 L252,180 L238,202 L212,206Z");
lion.append("path").attr("fill", "#fdf6e7")
  .attr("d", "M216,224 L244,208 L248,224 L226,234Z");
</script>
</body>
</html>
